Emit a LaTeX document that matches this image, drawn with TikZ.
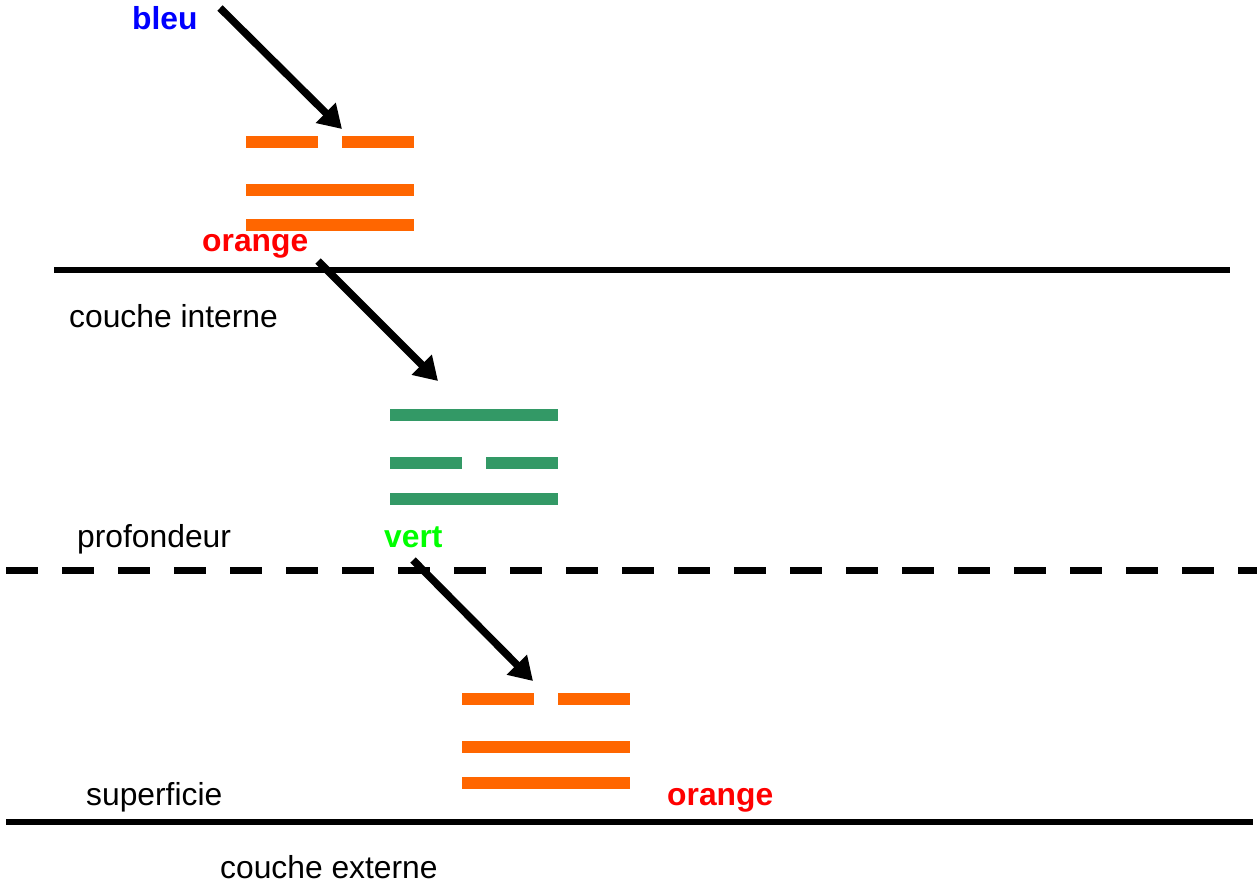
\documentclass[tikz,border=0pt]{standalone}
\usepackage{fontspec}
\setmainfont{Liberation Sans}
\usetikzlibrary{arrows.meta}
\definecolor{barorange}{HTML}{FF6600}
\definecolor{bargreen}{HTML}{339966}
\definecolor{txtblue}{HTML}{0000FF}
\definecolor{txtred}{HTML}{FF0000}
\definecolor{txtgreen}{HTML}{00FF00}
\tikzset{
  lbl/.style={anchor=base west, inner sep=0pt, font=\fontsize{31.8}{36}\selectfont},
  blbl/.style={lbl, font=\fontsize{31.8}{36}\selectfont\bfseries},
  obar/.style={draw=barorange, line width=12pt, line cap=butt},
  gbar/.style={draw=bargreen, line width=12pt, line cap=butt},
  arr/.style={draw=black, line width=7.5pt, -{Triangle[length=23pt,width=27pt]}},
  layer/.style={draw=black, line width=6pt}
}
\begin{document}
\begin{tikzpicture}[x=1pt,y=-1pt]
\useasboundingbox (0,0) rectangle (1257,888);
% layer lines
\draw[layer] (54,270) -- (1230,270);
\draw[draw=black, line width=7pt, dash pattern=on 32pt off 24pt] (6,570) -- (1257,570);
\draw[layer] (6,822) -- (1253,822);
% top orange block
\draw[obar] (246,141.5) -- (318,141.5);
\draw[obar] (342,141.5) -- (414,141.5);
\draw[obar] (246,189.5) -- (414,189.5);
\draw[obar] (246,225) -- (414,225);
% green block
\draw[gbar] (390,415) -- (558,415);
\draw[gbar] (390,463) -- (462,463);
\draw[gbar] (486,463) -- (558,463);
\draw[gbar] (390,499) -- (558,499);
% bottom orange block
\draw[obar] (462,699) -- (534,699);
\draw[obar] (558,699) -- (630,699);
\draw[obar] (462,747) -- (630,747);
\draw[obar] (462,783) -- (630,783);
% labels
\node[blbl, text=txtblue] (bleu) at (132,30) {bleu};
\node[blbl, text=txtred] (orange1) at (202,251) {orange};
\node[lbl] (interne) at (69,327) {couche interne};
\node[lbl] (prof) at (77,547) {profondeur};
\node[blbl, text=txtgreen] (vert) at (384,547) {vert};
\node[lbl] (superf) at (86,805) {superficie};
\node[blbl, text=txtred] (orange2) at (667,805) {orange};
\node[lbl] (externe) at (220,878) {couche externe};
% arrows
\coordinate (a1s) at (220,8);
\coordinate (a1e) at (342,129);
\coordinate (a2s) at (318,261);
\coordinate (a2e) at (438,381);
\coordinate (a3s) at (413,560);
\coordinate (a3e) at (533,681);
\draw[arr] (a1s) -- (a1e);
\draw[arr] (a2s) -- (a2e);
\draw[arr] (a3s) -- (a3e);
\end{tikzpicture}
\end{document}
